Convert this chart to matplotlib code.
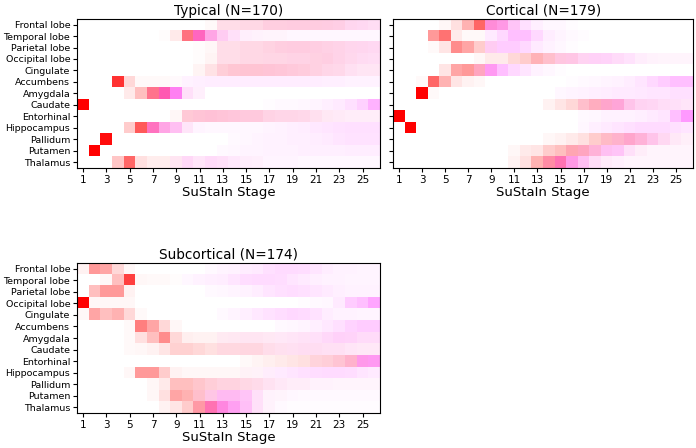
import matplotlib
matplotlib.use('Agg')
import matplotlib.pyplot as plt
import numpy as np

regions = ['Frontal lobe', 'Temporal lobe', 'Parietal lobe', 'Occipital lobe',
           'Cingulate', 'Accumbens', 'Amygdala', 'Caudate', 'Entorhinal',
           'Hippocampus', 'Pallidum', 'Putamen', 'Thalamus']
stages = np.arange(1, 27)

# probabilities (percent) per region (rows) and stage (cols)
# red = first z-score event, mag = second z-score event

typical_red = [
    [0, 0, 0, 0, 0, 0, 0, 0, 0, 0, 0, 2, 9, 9, 10, 10, 12, 12, 12, 12, 12, 11, 10, 6, 5, 4],
    [0, 0, 0, 0, 0, 0, 0, 1, 8, 50, 25, 10, 5, 2, 1, 1, 1, 1, 0, 0, 0, 0, 0, 0, 0, 0],
    [0, 0, 0, 0, 0, 0, 0, 0, 0, 0, 1, 3, 9, 9, 10, 10, 11, 12, 12, 12, 11, 10, 9, 7, 6, 5],
    [0, 0, 0, 0, 0, 0, 0, 0, 0, 0, 1, 4, 9, 9, 10, 10, 10, 10, 10, 10, 11, 11, 9, 7, 5, 4],
    [0, 0, 0, 0, 0, 0, 0, 0, 0, 0, 4, 10, 15, 17, 17, 17, 16, 15, 14, 13, 11, 9, 8, 5, 4, 4],
    [0, 0, 0, 80, 15, 2, 2, 2, 1, 0, 0, 0, 0, 0, 0, 0, 0, 0, 0, 0, 0, 0, 0, 0, 0, 0],
    [0, 0, 0, 0, 8, 25, 45, 30, 5, 2, 1, 0, 0, 0, 0, 0, 0, 0, 0, 0, 0, 0, 0, 0, 0, 0],
    [100, 0, 0, 0, 0, 0, 0, 0, 0, 0, 0, 0, 0, 0, 0, 0, 0, 0, 0, 0, 0, 0, 0, 0, 0, 0],
    [0, 0, 0, 0, 0, 0, 0, 0, 3, 16, 16, 16, 15, 14, 13, 13, 10, 9, 9, 8, 6, 4, 3, 2, 2, 2],
    [0, 0, 0, 0, 20, 65, 25, 10, 5, 2, 0, 0, 0, 0, 0, 0, 0, 0, 0, 0, 0, 0, 0, 0, 0, 0],
    [0, 0, 95, 0, 0, 0, 0, 0, 0, 0, 0, 0, 0, 0, 0, 0, 0, 0, 0, 0, 0, 0, 0, 0, 0, 0],
    [0, 100, 0, 0, 0, 0, 0, 0, 0, 0, 0, 0, 0, 0, 0, 0, 0, 0, 0, 0, 0, 0, 0, 0, 0, 0],
    [0, 0, 0, 22, 60, 12, 7, 7, 5, 3, 2, 2, 2, 1, 1, 1, 0, 0, 0, 0, 0, 0, 0, 0, 0, 0],
]
typical_mag = [
    [0, 0, 0, 0, 0, 0, 0, 0, 0, 0, 0, 0, 4, 4, 5, 5, 7, 7, 8, 8, 8, 9, 9, 10, 10, 9],
    [0, 0, 0, 0, 0, 0, 0, 0, 0, 5, 35, 25, 15, 10, 5, 4, 3, 3, 3, 3, 3, 3, 3, 3, 3, 3],
    [0, 0, 0, 0, 0, 0, 0, 0, 0, 0, 0, 0, 4, 4, 5, 5, 6, 7, 8, 8, 8, 8, 8, 9, 10, 10],
    [0, 0, 0, 0, 0, 0, 0, 0, 0, 0, 0, 0, 4, 4, 5, 5, 6, 6, 7, 7, 7, 8, 8, 8, 9, 9],
    [0, 0, 0, 0, 0, 0, 0, 0, 0, 0, 0, 1, 4, 5, 6, 6, 7, 7, 7, 7, 7, 7, 7, 7, 6, 6],
    [0, 0, 0, 0, 0, 0, 0, 0, 1, 5, 6, 7, 7, 7, 7, 7, 7, 7, 7, 7, 7, 6, 6, 5, 5, 5],
    [0, 0, 0, 0, 0, 0, 10, 35, 45, 10, 5, 0, 0, 0, 0, 0, 0, 0, 0, 0, 0, 0, 0, 0, 0, 0],
    [0, 0, 0, 0, 0, 0, 0, 0, 0, 0, 0, 0, 0, 0, 0, 0, 1, 2, 2, 3, 4, 6, 8, 12, 18, 30],
    [0, 0, 0, 0, 0, 0, 0, 0, 0, 5, 7, 8, 8, 8, 8, 8, 7, 7, 7, 7, 6, 5, 5, 5, 5, 5],
    [0, 0, 0, 0, 0, 0, 30, 25, 20, 8, 4, 3, 3, 3, 3, 3, 4, 5, 6, 7, 9, 10, 11, 12, 12, 12],
    [0, 0, 0, 0, 0, 0, 0, 0, 0, 0, 0, 0, 0, 2, 3, 4, 5, 5, 6, 6, 7, 8, 10, 11, 11, 11],
    [0, 0, 0, 0, 0, 0, 0, 0, 0, 0, 0, 0, 2, 3, 4, 4, 5, 5, 5, 6, 6, 6, 6, 7, 7, 7],
    [0, 0, 0, 0, 0, 0, 0, 0, 5, 12, 8, 12, 10, 8, 6, 5, 4, 4, 4, 3, 3, 3, 3, 3, 3, 3],
]

cortical_red = [
    [0, 0, 0, 0, 3, 12, 30, 60, 15, 10, 3, 0, 0, 0, 0, 0, 0, 0, 0, 0, 0, 0, 0, 0, 0, 0],
    [0, 0, 0, 40, 55, 8, 2, 2, 0, 0, 0, 0, 0, 0, 0, 0, 0, 0, 0, 0, 0, 0, 0, 0, 0, 0],
    [0, 0, 0, 2, 10, 45, 35, 20, 5, 0, 0, 0, 0, 0, 0, 0, 0, 0, 0, 0, 0, 0, 0, 0, 0, 0],
    [0, 0, 0, 0, 0, 0, 0, 3, 8, 8, 15, 20, 28, 20, 12, 10, 5, 3, 2, 2, 1, 1, 1, 1, 1, 1],
    [0, 0, 0, 0, 10, 35, 40, 25, 5, 0, 0, 0, 0, 0, 0, 0, 0, 0, 0, 0, 0, 0, 0, 0, 0, 0],
    [0, 0, 2, 60, 30, 10, 5, 3, 0, 0, 0, 0, 0, 0, 0, 0, 0, 0, 0, 0, 0, 0, 0, 0, 0, 0],
    [0, 0, 100, 2, 0, 0, 0, 0, 0, 0, 0, 0, 0, 0, 0, 0, 0, 0, 0, 0, 0, 0, 0, 0, 0, 0],
    [0, 0, 0, 0, 0, 0, 0, 0, 0, 0, 0, 0, 0, 5, 10, 15, 20, 25, 20, 15, 8, 5, 4, 3, 2, 2],
    [100, 0, 0, 0, 0, 0, 0, 0, 0, 0, 0, 0, 0, 0, 0, 0, 0, 0, 0, 0, 0, 0, 0, 0, 0, 0],
    [0, 100, 0, 0, 0, 0, 0, 0, 0, 0, 0, 0, 0, 0, 0, 0, 0, 0, 0, 0, 0, 0, 0, 0, 0, 0],
    [0, 0, 0, 0, 0, 0, 0, 0, 0, 0, 0, 0, 0, 3, 5, 8, 12, 20, 22, 20, 20, 15, 8, 5, 3, 2],
    [0, 0, 0, 0, 0, 0, 0, 0, 0, 0, 3, 8, 10, 20, 25, 30, 25, 15, 5, 3, 2, 2, 1, 1, 1, 1],
    [0, 0, 0, 0, 0, 0, 0, 0, 0, 0, 5, 12, 30, 35, 30, 10, 5, 3, 2, 1, 1, 1, 1, 1, 1, 1],
]
cortical_mag = [
    [0, 0, 0, 0, 0, 0, 0, 0, 30, 30, 20, 12, 6, 3, 3, 1, 0, 0, 0, 0, 0, 0, 0, 0, 0, 0],
    [0, 0, 0, 0, 0, 0, 0, 0, 8, 15, 25, 25, 15, 7, 4, 2, 1, 0, 0, 0, 0, 0, 0, 0, 0, 0],
    [0, 0, 0, 0, 0, 0, 0, 0, 15, 20, 20, 15, 8, 5, 3, 1, 0, 0, 0, 0, 0, 0, 0, 0, 0, 0],
    [0, 0, 0, 0, 0, 0, 0, 0, 0, 0, 0, 0, 2, 5, 10, 12, 12, 15, 15, 12, 10, 6, 4, 3, 3, 3],
    [0, 0, 0, 0, 0, 0, 0, 10, 35, 25, 15, 10, 5, 3, 1, 0, 0, 0, 0, 0, 0, 0, 0, 0, 0, 0],
    [0, 0, 0, 0, 0, 0, 0, 0, 0, 0, 0, 0, 0, 0, 0, 1, 2, 3, 4, 5, 7, 10, 15, 20, 25, 25],
    [0, 0, 0, 0, 0, 0, 0, 0, 0, 0, 0, 0, 0, 0, 3, 4, 5, 6, 7, 8, 8, 9, 10, 10, 12, 12],
    [0, 0, 0, 0, 0, 0, 0, 0, 0, 0, 0, 0, 0, 0, 0, 0, 5, 7, 15, 20, 15, 12, 12, 10, 10, 8],
    [0, 0, 0, 0, 0, 0, 0, 0, 0, 0, 0, 0, 0, 0, 0, 0, 2, 3, 5, 5, 5, 6, 8, 10, 25, 40],
    [0, 0, 0, 0, 0, 0, 0, 0, 0, 0, 0, 0, 0, 0, 0, 0, 3, 6, 8, 10, 12, 14, 14, 14, 12, 10],
    [0, 0, 0, 0, 0, 0, 0, 0, 0, 0, 0, 0, 0, 0, 0, 0, 0, 0, 5, 10, 15, 15, 15, 10, 6, 4],
    [0, 0, 0, 0, 0, 0, 0, 0, 0, 0, 0, 0, 0, 0, 0, 5, 10, 15, 20, 20, 10, 5, 3, 3, 3, 3],
    [0, 0, 0, 0, 0, 0, 0, 0, 0, 0, 0, 0, 0, 10, 25, 30, 20, 10, 6, 5, 3, 3, 3, 3, 3, 3],
]

subcortical_red = [
    [5, 40, 35, 15, 3, 0, 0, 0, 0, 0, 0, 0, 0, 0, 0, 0, 0, 0, 0, 0, 0, 0, 0, 0, 0, 0],
    [0, 0, 3, 25, 75, 3, 2, 2, 1, 0, 0, 0, 0, 0, 0, 0, 0, 0, 0, 0, 0, 0, 0, 0, 0, 0],
    [0, 25, 40, 40, 5, 0, 0, 0, 0, 0, 0, 0, 0, 0, 0, 0, 0, 0, 0, 0, 0, 0, 0, 0, 0, 0],
    [100, 3, 3, 3, 3, 0, 0, 0, 0, 0, 0, 0, 0, 0, 0, 0, 0, 0, 0, 0, 0, 0, 0, 0, 0, 0],
    [3, 35, 25, 30, 15, 2, 0, 0, 0, 0, 0, 0, 0, 0, 0, 0, 0, 0, 0, 0, 0, 0, 0, 0, 0, 0],
    [0, 0, 0, 0, 2, 50, 35, 15, 3, 0, 0, 0, 0, 0, 0, 0, 0, 0, 0, 0, 0, 0, 0, 0, 0, 0],
    [0, 0, 0, 0, 2, 12, 25, 45, 15, 6, 5, 5, 5, 5, 5, 5, 4, 3, 3, 3, 2, 2, 2, 2, 2, 2],
    [0, 0, 0, 0, 2, 3, 5, 10, 18, 18, 15, 12, 12, 12, 12, 12, 8, 6, 5, 5, 5, 4, 4, 3, 3, 3],
    [0, 0, 0, 0, 0, 0, 0, 0, 0, 0, 0, 0, 0, 0, 2, 4, 6, 8, 10, 12, 14, 15, 17, 20, 8, 5],
    [0, 0, 0, 0, 3, 40, 40, 20, 5, 3, 3, 3, 3, 3, 3, 2, 1, 0, 0, 0, 0, 0, 0, 0, 0, 0],
    [0, 0, 0, 0, 0, 0, 3, 8, 25, 25, 20, 15, 12, 12, 10, 8, 5, 3, 2, 2, 1, 1, 1, 1, 1, 1],
    [0, 0, 0, 0, 0, 0, 3, 12, 35, 30, 20, 10, 5, 5, 3, 2, 1, 1, 0, 0, 0, 0, 0, 0, 0, 0],
    [0, 0, 0, 0, 0, 0, 0, 5, 10, 20, 35, 30, 12, 5, 3, 2, 1, 0, 0, 0, 0, 0, 0, 0, 0, 0],
]
subcortical_mag = [
    [0, 0, 0, 0, 0, 0, 0, 0, 0, 0, 0, 2, 4, 5, 7, 8, 12, 14, 14, 13, 10, 7, 5, 5, 4, 4],
    [0, 0, 0, 0, 0, 0, 0, 0, 0, 3, 5, 6, 7, 10, 13, 14, 14, 13, 10, 8, 6, 5, 5, 4, 4, 4],
    [0, 0, 0, 0, 0, 0, 0, 0, 0, 0, 0, 2, 3, 4, 5, 7, 10, 12, 13, 12, 10, 8, 6, 5, 5, 5],
    [0, 0, 0, 0, 0, 0, 0, 0, 0, 0, 0, 0, 0, 0, 0, 0, 0, 0, 0, 1, 2, 3, 8, 20, 25, 35],
    [0, 0, 0, 0, 0, 0, 0, 0, 0, 0, 0, 0, 2, 4, 6, 9, 11, 13, 15, 14, 11, 7, 5, 5, 4, 4],
    [0, 0, 0, 0, 0, 0, 0, 0, 0, 0, 0, 0, 0, 0, 0, 0, 0, 2, 3, 4, 6, 9, 12, 17, 20, 20],
    [0, 0, 0, 0, 0, 0, 0, 0, 0, 0, 0, 0, 3, 4, 5, 5, 5, 6, 7, 8, 10, 13, 16, 15, 12, 12],
    [0, 0, 0, 0, 0, 0, 0, 0, 0, 0, 0, 0, 3, 3, 4, 4, 5, 6, 7, 8, 8, 8, 8, 7, 6, 6],
    [0, 0, 0, 0, 0, 0, 0, 0, 0, 0, 0, 0, 0, 0, 0, 0, 0, 0, 0, 0, 3, 4, 6, 10, 32, 35],
    [0, 0, 0, 0, 0, 0, 0, 0, 0, 0, 0, 0, 0, 0, 2, 3, 6, 8, 10, 12, 13, 14, 14, 13, 10, 8],
    [0, 0, 0, 0, 0, 0, 0, 0, 0, 0, 2, 4, 5, 5, 5, 6, 6, 6, 5, 5, 4, 4, 3, 3, 3, 3],
    [0, 0, 0, 0, 0, 0, 0, 0, 0, 0, 5, 12, 22, 22, 20, 10, 4, 3, 3, 2, 2, 2, 2, 2, 2, 2],
    [0, 0, 0, 0, 0, 0, 0, 0, 0, 0, 5, 25, 35, 32, 22, 10, 4, 2, 1, 1, 1, 1, 1, 1, 1, 1],
]


def colour_matrix(red, mag):
    red = np.array(red) / 100.0
    mag = np.array(mag) / 100.0
    img = np.ones((len(regions), len(stages), 3))
    img[:, :, 1] -= red + mag
    img[:, :, 2] -= red
    return np.clip(img, 0, 1)


def plot_panel(fig, rect, title, red, mag, show_labels=True):
    ax = fig.add_axes(rect)
    ax.imshow(colour_matrix(red, mag), interpolation='nearest', aspect='auto')
    ax.set_xticks(np.arange(0, len(stages), 2))
    ax.set_xticklabels(stages[::2], fontsize=7.5)
    ax.set_yticks(np.arange(len(regions)))
    ax.set_yticklabels(regions if show_labels else [], fontsize=6.8)
    ax.set_xlabel('SuStaIn Stage', fontsize=9.5, labelpad=1)
    ax.set_title(title, fontsize=9.8, pad=3)
    ax.tick_params(length=3, pad=2)
    return ax


fig = plt.figure(figsize=(6.96, 4.48), dpi=100)
plot_panel(fig, [0.111, 0.625, 0.435, 0.333], 'Typical (N=170)', typical_red, typical_mag)
plot_panel(fig, [0.565, 0.625, 0.431, 0.333], 'Cortical (N=179)', cortical_red, cortical_mag, False)
plot_panel(fig, [0.111, 0.078, 0.435, 0.335], 'Subcortical (N=174)', subcortical_red, subcortical_mag)
fig.savefig('out.png', dpi=100)
